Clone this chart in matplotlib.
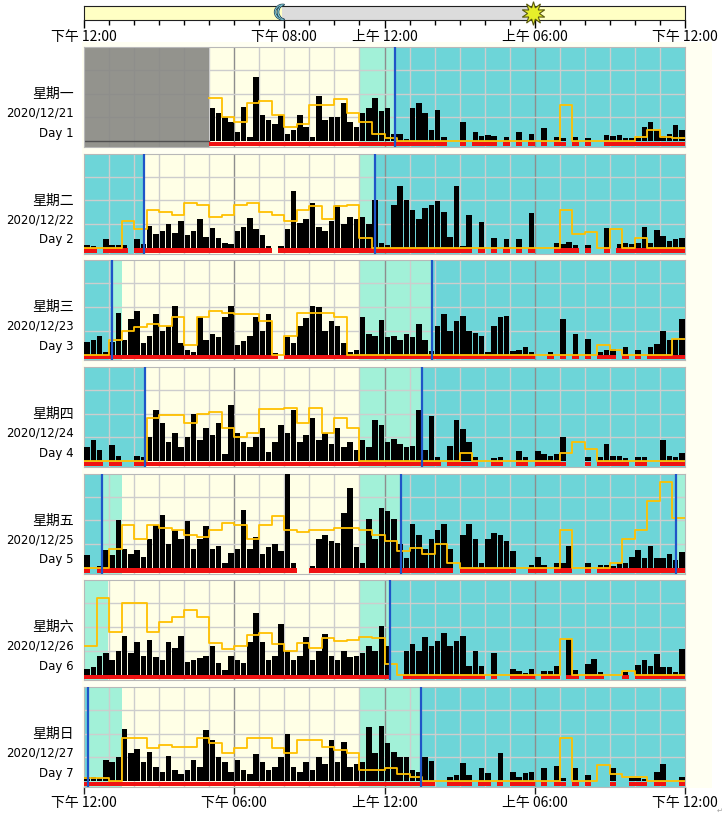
import numpy as np
import matplotlib
matplotlib.use('Agg')
import matplotlib.pyplot as plt
from matplotlib.patches import Rectangle
from matplotlib import patheffects

plt.rcParams['font.family'] = ['Noto Sans CJK SC', 'DejaVu Sans']

W, H = 723, 814

weekdays = ['星期一', '星期二', '星期三', '星期四', '星期五', '星期六', '星期日']
dates = ['2020/12/21', '2020/12/22', '2020/12/23', '2020/12/24',
         '2020/12/25', '2020/12/26', '2020/12/27']
day_names = ['Day 1', 'Day 2', 'Day 3', 'Day 4', 'Day 5', 'Day 6', 'Day 7']

top_ticks = [0, 8, 12, 18, 24]
top_labels = ['下午 12:00', '下午 08:00', '上午 12:00', '上午 06:00', '下午 12:00']
bottom_ticks = [0, 6, 12, 18, 24]
bottom_labels = ['下午 12:00', '下午 06:00', '上午 12:00', '上午 06:00', '下午 12:00']

# activity counts, 15 min epochs starting at 12:00 PM (96 per day)
act_day1 = [0, 0, 0, 0, 0, 0, 0, 0, 0, 0, 0, 0,
            0, 0, 0, 0, 0, 0, 0, 0, 35, 30, 25, 20,
            10, 36, 5, 67, 28, 22, 18, 28, 8, 12, 28, 15,
            5, 48, 22, 26, 25, 40, 20, 15, 30, 35, 45, 32,
            35, 8, 8, 2, 35, 40, 30, 12, 33, 4, 0, 0,
            20, 0, 10, 6, 7, 6, 0, 5, 0, 10, 0, 8,
            0, 14, 0, 5, 3, 0, 5, 0, 3, 0, 0, 7,
            6, 7, 3, 3, 3, 15, 20, 12, 6, 8, 17, 12]
act_day2 = [3, 2, 0, 9, 3, 3, 3, 0, 9, 4, 23, 15,
            18, 25, 16, 28, 14, 18, 30, 12, 21, 10, 5, 4,
            18, 22, 31, 20, 14, 2, 0, 2, 20, 60, 26, 30,
            47, 22, 18, 28, 45, 25, 33, 30, 33, 25, 50, 5,
            3, 45, 65, 50, 40, 30, 42, 45, 49, 38, 12, 65,
            2, 35, 0, 27, 0, 10, 0, 9, 0, 9, 0, 37,
            0, 0, 0, 5, 4, 6, 3, 0, 3, 0, 0, 21,
            0, 4, 5, 4, 5, 22, 5, 19, 13, 7, 9, 10]
act_day3 = [13, 15, 20, 3, 13, 44, 15, 37, 46, 12, 20, 43,
            25, 30, 51, 12, 5, 3, 39, 15, 22, 18, 39, 51,
            10, 14, 20, 39, 25, 43, 2, 0, 18, 12, 30, 38,
            51, 50, 25, 35, 30, 12, 3, 5, 39, 22, 20, 36,
            18, 20, 15, 22, 18, 32, 15, 4, 30, 43, 25, 35,
            41, 25, 23, 20, 3, 30, 39, 41, 4, 5, 8, 3,
            0, 0, 3, 0, 37, 0, 22, 0, 16, 0, 3, 5,
            6, 0, 8, 0, 5, 0, 8, 11, 25, 15, 16, 37]
act_day4 = [15, 22, 12, 0, 17, 6, 0, 0, 6, 4, 25, 54,
            40, 20, 30, 15, 25, 50, 22, 35, 28, 40, 8, 59,
            30, 20, 15, 25, 35, 10, 20, 38, 30, 54, 20, 28,
            45, 22, 30, 18, 35, 15, 20, 12, 22, 15, 43, 38,
            20, 23, 18, 15, 16, 54, 12, 48, 5, 0, 16, 43,
            34, 20, 4, 0, 0, 3, 5, 0, 0, 11, 4, 0,
            11, 8, 6, 8, 25, 0, 0, 0, 4, 0, 5, 18,
            6, 6, 3, 0, 4, 4, 0, 0, 22, 6, 4, 9]
act_day5 = [14, 0, 2, 19, 14, 50, 20, 15, 19, 12, 30, 45,
            56, 25, 40, 30, 49, 20, 30, 44, 20, 23, 5, 16,
            20, 61, 20, 33, 15, 22, 25, 18, 105, 5, 0, 0,
            2, 30, 35, 28, 26, 58, 84, 22, 5, 51, 30, 63,
            60, 51, 25, 10, 46, 35, 20, 30, 40, 46, 20, 0,
            35, 46, 30, 5, 30, 37, 35, 28, 18, 0, 0, 3,
            11, 3, 0, 5, 5, 23, 0, 0, 5, 0, 3, 3,
            2, 5, 5, 12, 19, 10, 23, 10, 10, 15, 8, 17]
act_day6 = [6, 8, 20, 23, 15, 25, 41, 23, 34, 20, 36, 18,
            15, 34, 28, 41, 13, 15, 17, 20, 30, 12, 5, 20,
            15, 12, 34, 65, 34, 15, 20, 53, 25, 15, 20, 39,
            15, 25, 43, 20, 15, 25, 18, 20, 23, 30, 25, 51,
            30, 0, 0, 25, 32, 25, 39, 30, 35, 44, 30, 35,
            41, 9, 25, 9, 0, 23, 0, 0, 6, 4, 2, 6,
            0, 4, 4, 9, 0, 37, 5, 0, 11, 16, 3, 0,
            0, 0, 3, 0, 10, 15, 9, 22, 8, 8, 3, 27]
act_day7 = [4, 5, 3, 22, 20, 25, 55, 30, 34, 20, 31, 15,
            10, 27, 12, 8, 12, 22, 15, 54, 43, 25, 20, 10,
            22, 12, 8, 29, 20, 12, 15, 25, 50, 15, 10, 20,
            12, 25, 18, 43, 20, 41, 15, 18, 20, 57, 30, 58,
            40, 31, 25, 26, 12, 10, 26, 21, 0, 0, 5, 7,
            19, 7, 0, 14, 9, 0, 30, 0, 10, 5, 9, 10,
            0, 14, 0, 16, 3, 0, 14, 0, 7, 0, 0, 0,
            14, 0, 0, 3, 3, 2, 0, 10, 18, 0, 0, 4]

# light level, 30 min epochs (48 per day), None = no data
light_day1 = [None, None, None, None, None, None, None, None, None, None, 45, 25,
              20, 40, 42, 28, 15, 18, 38, 38, 44, 30, 20, 8,
              3, 0, 0, 0, 0, 0, 0, 0, 0, 0, 0, 0,
              0, 0, 38, 0, 0, 0, 0, 0, 5, 12, 5, 3]
light_day2 = [0, 0, 0, 28, 20, 40, 38, 35, 47, 45, 32, 35,
              45, 47, 38, 35, 28, 40, 44, 30, 44, 45, 10, 0,
              0, 0, 0, 0, 0, 0, 0, 0, 0, 0, 0, 0,
              0, 0, 40, 15, 17, 0, 20, 0, 10, 0, 0, 0]
light_day3 = [0, 0, 15, 25, 29, 32, 30, 39, 10, 39, 46, 44,
              43, 43, 35, 0, 20, 44, 44, 44, 40, 0, 0, 0,
              0, 0, 0, 0, 0, 0, 0, 0, 0, 0, 0, 0,
              0, 0, 0, 0, 0, 10, 5, 0, 0, 0, 0, 16]
light_day4 = [0, 0, 0, 0, 0, 45, 49, 49, 40, 50, 52, 35,
              25, 30, 55, 55, 56, 40, 56, 30, 45, 35, 0, 0,
              0, 0, 0, 0, 0, 0, 9, 0, 0, 0, 0, 0,
              0, 0, 9, 20, 13, 0, 0, 0, 0, 0, 0, 0]
light_day5 = [0, 0, 20, 45, 30, 45, 42, 40, 35, 33, 40, 47,
              45, 30, 45, 55, 40, 38, 40, 40, 42, 42, 40, 35,
              28, 18, 21, 15, 25, 5, 0, 0, 0, 0, 0, 0,
              0, 0, 40, 0, 0, 0, 5, 30, 40, 70, 90, 52]
light_day6 = [30, 80, 45, 75, 75, 45, 55, 60, 68, 60, 33, 27,
              30, 42, 44, 32, 25, 33, 28, 38, 35, 36, 40, 38,
              11, 0, 0, 0, 0, 0, 0, 0, 0, 0, 0, 0,
              0, 0, 37, 0, 0, 0, 0, 4, 0, 0, 0, 0]
light_day7 = [3, 3, 0, 45, 45, 35, 38, 36, 36, 45, 40, 30,
              35, 45, 45, 35, 30, 43, 43, 36, 33, 30, 12, 12,
              14, 8, 5, 0, 0, 0, 0, 0, 0, 0, 0, 0,
              0, 0, 45, 0, 0, 17, 8, 5, 5, 0, 0, 0]

activity = [act_day1, act_day2, act_day3, act_day4, act_day5, act_day6, act_day7]
light = [light_day1, light_day2, light_day3, light_day4, light_day5, light_day6, light_day7]

# intervals in hours counted from 12:00 PM of day 1
no_data = (0.0, 5.0)
rest_start = [10.97, 34.97, 58.97, 82.97, 106.97, 130.97, 154.97]
rest_end = [26.4, 49.5, 74.44, 97.5, 120.96, 145.5, 168.0]
sleep_start = [12.4, 35.64, 61.9, 85.5, 108.67, 132.2, 157.44]
sleep_end = [26.4, 49.1, 74.44, 96.72, 119.64, 144.16, 168.0]
lights_off = 7.92
lights_on = 17.92

CREAM = '#FFFFE6'
MINT = '#A2F1D8'
CYAN = '#6DD5D8'
GRAY = '#878784'
GRID = '#CDCDCD'
GRID_MAJOR = '#8E8E8E'
LIGHT = '#FFC000'
RED = '#F01212'
BLUE = '#1F55C8'


def fx(px):
    return px / W


def fy(px):
    return 1 - px / H


X0, X1 = 84, 685

fig = plt.figure(figsize=(W / 100, H / 100), dpi=100)
fig.patches.append(Rectangle((fx(82), fy(788)), 630 / W, 746 / H,
                             transform=fig.transFigure, fc='#FFFFF2', ec='none', zorder=-10))

# light / dark bar at top
axt = fig.add_axes([fx(X0), fy(20), (X1 - X0) / W, 14 / H])
axt.set_xlim(0, 24)
axt.set_ylim(0, 1)
axt.axvspan(0, lights_off, color='#FFFFC4', lw=0)
axt.axvspan(lights_off, lights_on, color='#DCDCDC', lw=0)
axt.axvspan(lights_on, 24, color='#FFFFC4', lw=0)
axt.set_yticks([])
axt.set_xticks(top_ticks)
axt.set_xticklabels(top_labels, fontsize=10)
axt.set_xticks(range(25), minor=True)
axt.tick_params(axis='x', which='major', length=6, width=1, pad=1)
axt.tick_params(axis='x', which='minor', length=3.5, width=1)
for sp in axt.spines.values():
    sp.set_color('#202020')
moon = axt.text(lights_off, 0.45, '☾', fontsize=15, color='#8FE6F2', ha='center', va='center',
                family='DejaVu Sans', zorder=5, clip_on=False)
moon.set_path_effects([patheffects.withStroke(linewidth=1.2, foreground='#305060')])
axt.plot(lights_on, 0.5, marker=(10, 1, 0), ms=17, mfc='#E6EE2A', mec='#5A5A10',
         mew=0.8, clip_on=False, zorder=5)

hours = np.arange(96) * 0.25
half_hours = np.arange(49) * 0.5

for d in range(7):
    top = 47 + d * 106.67
    ax = fig.add_axes([fx(X0), fy(top + 100), (X1 - X0) / W, 100 / H])
    ax.set_facecolor(CREAM)
    ax.set_xlim(0, 24)
    ax.set_ylim(-6, 99)
    t0 = 24 * d

    for s, e in zip(rest_start, rest_end):
        a, b = max(s - t0, 0), min(e - t0, 24)
        if b > a:
            ax.axvspan(a, b, color=MINT, lw=0, zorder=0)
    for s, e in zip(sleep_start, sleep_end):
        a, b = max(s - t0, 0), min(e - t0, 24)
        if b > a:
            ax.axvspan(a, b, color=CYAN, lw=0, zorder=0.5)

    # grid
    for h in range(1, 24):
        major = h % 6 == 0
        ax.axvline(h, color=GRID_MAJOR if major else GRID, lw=1, zorder=1)
    for v in (25, 50, 75):
        ax.axhline(v, color=GRID, lw=1, zorder=1)

    a, b = max(no_data[0] - t0, 0), min(no_data[1] - t0, 24)
    if b > a:
        ax.axvspan(a, b, color=GRAY, alpha=0.9, lw=0, zorder=1.5)
        ax.plot([a, b], [0, 0], color='#505050', lw=1, zorder=2)

    act = np.array(activity[d], dtype=float)
    ax.bar(hours + 0.125, act, width=0.22, color='black', lw=0, zorder=3)
    awake = np.where(act > 0, 4.6, 0)
    ax.bar(hours, awake, bottom=-5.0, width=0.25, align='edge', color=RED, lw=0, zorder=3)

    lt = np.array(light[d], dtype=float)
    ax.step(half_hours, np.append(lt, lt[-1]), where='post', color=LIGHT, lw=1.3, zorder=4)

    for t in sleep_start + sleep_end:
        if 0 < t - t0 < 24:
            ax.axvline(t - t0, color=BLUE, lw=1.6, zorder=5)

    for sp in ax.spines.values():
        sp.set_color('#B8B8B8')
    ax.set_yticks([])
    if d == 6:
        ax.set_xticks(bottom_ticks)
        ax.set_xticklabels(bottom_labels, fontsize=10)
        ax.tick_params(axis='x', length=5, width=1, color='#202020', pad=1.5)
    else:
        ax.set_xticks([])

    ax.text(-0.017, 0.53, weekdays[d], transform=ax.transAxes, ha='right', va='center',
            fontsize=10)
    ax.text(-0.017, 0.34, dates[d], transform=ax.transAxes, ha='right', va='center',
            fontsize=8.5, family='DejaVu Sans')
    ax.text(-0.017, 0.14, day_names[d], transform=ax.transAxes, ha='right', va='center',
            fontsize=8.5, family='DejaVu Sans')

fig.text(fx(720), fy(811), '↵', fontsize=5, color='#A0A0A0', family='DejaVu Sans',
         ha='center', va='center')

fig.savefig('out.png', dpi=100)
